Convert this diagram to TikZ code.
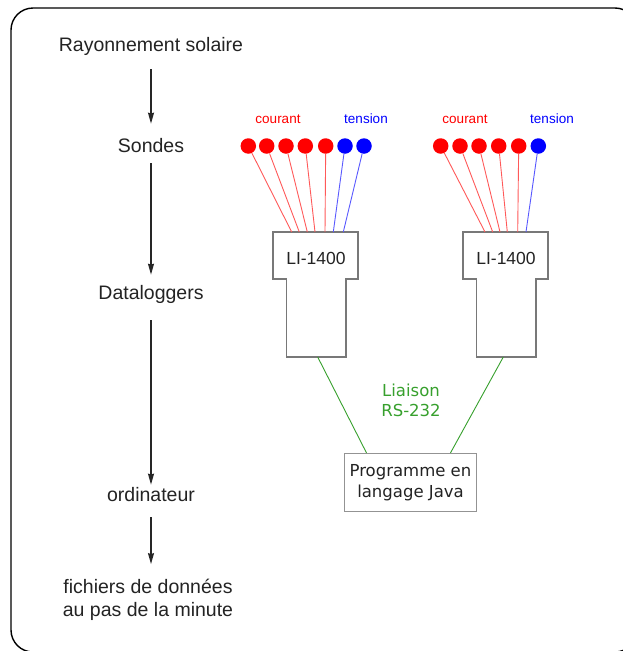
\documentclass[tikz,border=0pt]{standalone}
\usepackage{fontspec}
\setmainfont{Liberation Sans}
\newfontfamily\dejavu{DejaVu Sans}
\usetikzlibrary{arrows.meta, positioning, calc}
\definecolor{linkGreen}{RGB}{55,160,45}
\definecolor{boxGray}{RGB}{120,120,120}
\definecolor{textGray}{RGB}{35,35,35}
\tikzset{
    flowLabel/.style={text=textGray, font=\fontsize{19.5}{23}\selectfont, inner sep=0pt, align=center},
    flowArrow/.style={-{Stealth[length=11pt, width=6pt, inset=1pt]}, line width=1.4pt, black!85},
    probe/.style={circle, fill=#1, inner sep=0pt, minimum size=15.5pt},
    wire/.style={draw=#1!65, line width=0.9pt},
    groupLabel/.style={font=\fontsize{13.5}{16}\selectfont, inner sep=0pt},
    loggerLine/.style={draw=boxGray, line width=1.4pt},
    loggerLabel/.style={text=textGray, font=\fontsize{17.5}{20}\selectfont, inner sep=0pt},
    progBox/.style={draw=boxGray!80, line width=1.2pt, fill=white, minimum width=132pt, minimum height=58pt,
        align=center, text=textGray, font=\dejavu\fontsize{16.5}{21}\selectfont},
    linkLine/.style={draw=linkGreen, line width=0.9pt},
    linkLabel/.style={text=linkGreen, align=center, inner sep=0pt, font=\dejavu\fontsize{16.5}{20}\selectfont},
    frameLine/.style={line width=1.4pt, rounded corners=22pt}
}

% --- Datalogger outline macro ---
\newcommand\drawLogger[2]{% #1: name, #2: top left corner
    \draw[loggerLine] (#2) -- ++(85,0) -- ++(0,47) -- ++(-12,0) -- ++(0,78)
        -- ++(-59.5,0) -- ++(0,-78) -- ++(-13.5,0) -- cycle;
    \node[loggerLabel] (#1) at ($(#2)+(43,26)$) {LI-1400};
}

\begin{document}
\begin{tikzpicture}[x=1pt, y=-1pt]

    % --- Page and frame ---
    \useasboundingbox (0,0) rectangle (623,651);
    \clip (0,0) rectangle (623,651);
    \draw[frameLine] (11,8) rectangle (637,652);

    % --- Left column: the chain ---
    \node[flowLabel] (ray)    at (151,46)  {Rayonnement solaire};
    \node[flowLabel] (sondes) at (151,146) {Sondes};
    \node[flowLabel] (dlog)   at (151,294) {Dataloggers};
    \node[flowLabel] (ordi)   at (151,495) {ordinateur};
    \node[flowLabel] (fich)   at (148,600) {fichiers de données\\au pas de la minute};

    \draw[flowArrow, shorten <=14pt, shorten >=15pt] (ray) -- (sondes);
    \draw[flowArrow, shorten <=10pt, shorten >=10pt] (sondes) -- (dlog);
    \draw[flowArrow, shorten <=17pt, shorten >=3pt]  (dlog) -- (ordi);
    \draw[flowArrow, shorten <=15pt, shorten >=15pt] (ordi) -- (fich.north -| ordi);

    % --- Dataloggers ---
    \coordinate (LA) at (273,232);
    \coordinate (LB) at (463,232);
    \drawLogger{logA}{LA}
    \drawLogger{logB}{LB}

    % --- Probes, first logger ---
    \node[groupLabel, text=red]  (curA) at (278,119) {courant};
    \node[groupLabel, text=blue] (tenA) at (366,119) {tension};
    \foreach \i/\px/\wx/\col in {1/248.3/291.7/red, 2/266.7/299.3/red, 3/286/307.3/red,
            4/305.3/315/red, 5/325.7/325/red, 6/345/333.3/blue, 7/364/343.3/blue}{
        \node[probe=\col] (pa\i) at (\px,146) {};
        \coordinate (wa\i) at (\wx,232);
        \draw[wire=\col] (pa\i) -- (wa\i);
    }

    % --- Probes, second logger ---
    \node[groupLabel, text=red]  (curB) at (465,119) {courant};
    \node[groupLabel, text=blue] (tenB) at (552,119) {tension};
    \foreach \i/\px/\wx/\col in {1/440.7/485/red, 2/460/492.7/red, 3/479/500/red,
            4/498.7/507.3/red, 5/518.7/517.7/red, 6/538.3/526/blue}{
        \node[probe=\col] (pb\i) at (\px,146) {};
        \coordinate (wb\i) at (\wx,232);
        \draw[wire=\col] (pb\i) -- (wb\i);
    }

    % --- Computer and RS-232 link ---
    \node[progBox] (prog) at (410.5,482.5) {Programme en\\langage Java};
    \node[linkLabel] (link) at (411,400) {Liaison\\RS-232};

    \coordinate (outA) at (317.7,357);
    \coordinate (outB) at (503.3,357);
    \coordinate (inA) at ($(prog.north)+(-44,0)$);
    \coordinate (inB) at ($(prog.north)+(40,0)$);
    \draw[linkLine] (outA) -- (inA);
    \draw[linkLine] (outB) -- (inB);

\end{tikzpicture}
\end{document}
